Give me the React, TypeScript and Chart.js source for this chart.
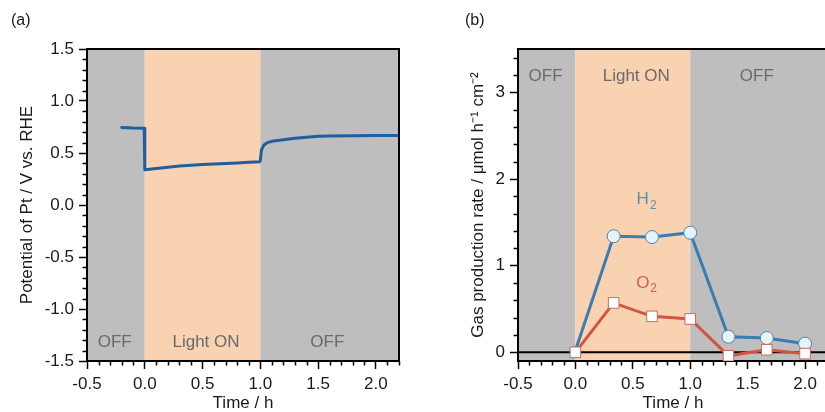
import React, { useEffect, useRef } from 'react';
import { Chart, registerables } from 'chart.js';

Chart.register(...registerables);

// ---------- data ----------
// Panel (a): potential of Pt vs time
const potentialTime = [-0.2, -0.1, -0.005, 0.0, 0.1, 0.2, 0.3, 0.4, 0.5, 0.6, 0.7, 0.8, 0.9, 0.995, 1.0, 1.01, 1.03, 1.06, 1.1, 1.2, 1.3, 1.4, 1.5, 1.6, 1.8, 2.0, 2.2];
const potentialValue = [0.745, 0.74, 0.738, 0.34, 0.352, 0.364, 0.374, 0.382, 0.389, 0.395, 0.4, 0.405, 0.41, 0.415, 0.43, 0.53, 0.575, 0.6, 0.612, 0.628, 0.642, 0.652, 0.66, 0.664, 0.667, 0.668, 0.668];

// Panel (b): gas production rates
const gasTime = [0, 0.333, 0.667, 1.0, 1.333, 1.667, 2.0];
const h2Rate = [0.02, 1.34, 1.33, 1.38, 0.18, 0.165, 0.1];
const o2Rate = [0.0, 0.57, 0.415, 0.385, -0.04, 0.03, -0.015];

// Illumination periods
const bandStart = [-0.5, 0, 1];
const bandEnd = [0, 1, 2.2];
const bandLabels = ['OFF', 'Light ON', 'OFF'];
const bandLabelAt = [-0.26, 0.53, 1.58];
const bandColors = ['#bebebe', '#f9d2b2', '#bebebe'];

// Axis ticks
const timeTicksMajor = 0.5;
const timeTicksMinor = 0.1;
const potentialTicksMajor = 0.5;
const potentialTicksMinor = 0.1;
const rateTicksMajor = 1;
const rateTicksMinor = 0.2;

const FONT = "'Liberation Sans', Arial, sans-serif";
const FS = 17;

const bandsPlugin = {
  id: 'bands',
  beforeDraw(chart: any, _args: any, opts: any) {
    const { ctx, chartArea: a, scales } = chart;
    const x = scales.x;
    const y = scales.y;
    ctx.save();
    ctx.beginPath();
    ctx.rect(a.left, a.top, a.right - a.left, a.bottom - a.top);
    ctx.clip();
    for (let i = 0; i < bandStart.length; i++) {
      const x0 = x.getPixelForValue(bandStart[i]);
      const x1 = x.getPixelForValue(bandEnd[i]);
      ctx.fillStyle = bandColors[i];
      ctx.fillRect(x0, a.top, x1 - x0, a.bottom - a.top);
    }
    if (opts.zeroLine) {
      const y0 = y.getPixelForValue(0);
      ctx.strokeStyle = '#000';
      ctx.lineWidth = 2;
      ctx.beginPath();
      ctx.moveTo(a.left, y0);
      ctx.lineTo(a.right, y0);
      ctx.stroke();
    }
    ctx.font = `${FS}px ${FONT}`;
    ctx.fillStyle = '#6a6a6a';
    ctx.textAlign = 'center';
    ctx.textBaseline = 'middle';
    for (let i = 0; i < bandLabels.length; i++) {
      ctx.fillText(bandLabels[i], x.getPixelForValue(bandLabelAt[i]), y.getPixelForValue(opts.labelY));
    }
    ctx.restore();
  },
};

const frameAndMinorPlugin = {
  id: 'frameMinor',
  afterDraw(chart: any, _args: any, opts: any) {
    const { ctx, chartArea: a, scales } = chart;
    const x = scales.x;
    const y = scales.y;
    ctx.save();
    ctx.strokeStyle = '#000';
    ctx.lineWidth = 1.5;
    // minor ticks x
    for (let v = x.min; v <= x.max + 1e-9; v += opts.xMinor) {
      const r = v / opts.xMajor;
      if (Math.abs(r - Math.round(r)) < 1e-6) continue;
      const px = Math.round(x.getPixelForValue(v)) + 0.5;
      ctx.beginPath();
      ctx.moveTo(px, a.bottom);
      ctx.lineTo(px, a.bottom + 4.5);
      ctx.stroke();
    }
    // minor ticks y
    const yStart = Math.ceil(y.min / opts.yMinor - 1e-9) * opts.yMinor;
    for (let v = yStart; v <= y.max + 1e-9; v += opts.yMinor) {
      const r = v / opts.yMajor;
      if (Math.abs(r - Math.round(r)) < 1e-6) continue;
      const py = Math.round(y.getPixelForValue(v)) + 0.5;
      ctx.beginPath();
      ctx.moveTo(a.left, py);
      ctx.lineTo(a.left - 4.5, py);
      ctx.stroke();
    }
    // frame top / right
    ctx.lineWidth = 2;
    ctx.beginPath();
    ctx.moveTo(a.left - 1, a.top);
    ctx.lineTo(a.right, a.top);
    ctx.lineTo(a.right, a.bottom);
    ctx.stroke();
    ctx.restore();
  },
};

const gasLabelsPlugin = {
  id: 'gasLabels',
  afterDatasetsDraw(chart: any) {
    const { ctx, scales } = chart;
    const x = scales.x;
    const y = scales.y;
    const draw = (main: string, sub: string, xv: number, yv: number, color: string) => {
      ctx.save();
      ctx.fillStyle = color;
      ctx.textBaseline = 'middle';
      ctx.textAlign = 'left';
      ctx.font = `${FS}px ${FONT}`;
      const w1 = ctx.measureText(main).width;
      ctx.font = `12px ${FONT}`;
      const w2 = ctx.measureText(sub).width;
      const cx = x.getPixelForValue(xv);
      const cy = y.getPixelForValue(yv);
      const left = cx - (w1 + w2 + 1) / 2;
      ctx.font = `${FS}px ${FONT}`;
      ctx.fillText(main, left, cy);
      ctx.font = `12px ${FONT}`;
      ctx.fillText(sub, left + w1 + 1, cy + 6);
      ctx.restore();
    };
    draw('H', '2', 0.62, 1.76, '#5b8fba');
    draw('O', '2', 0.62, 0.8, '#d4604a');
  },
};

function axisCommon(title: string, fit: (s: any) => void, decimals: number, titlePad: any) {
  return {
    type: 'linear' as const,
    grid: {
      drawOnChartArea: false,
      drawTicks: true,
      tickLength: 8,
      tickColor: '#000',
      tickWidth: 1.5,
    },
    border: { display: true, color: '#000', width: 2 },
    ticks: {
      includeBounds: false,
      autoSkip: false,
      maxRotation: 0,
      padding: 5,
      color: '#1a1a1a',
      font: { family: FONT, size: FS },
      callback: (v: any) => Number(v).toFixed(decimals),
    },
    title: {
      display: true,
      text: title,
      color: '#1a1a1a',
      font: { family: FONT, size: FS },
      padding: titlePad,
    },
    afterFit: fit,
  };
}

function PanelA() {
  const ref = useRef<HTMLCanvasElement>(null);
  useEffect(() => {
    const xs = axisCommon('Time / h', (s: any) => { s.height = 51; }, 1, { top: 0, bottom: -2 });
    const ys = axisCommon('Potential of Pt / V vs. RHE', (s: any) => { s.width = 70; }, 1, 0);
    const chart = new Chart(ref.current!, {
      type: 'line',
      data: {
        datasets: [
          {
            data: potentialTime.map((t, i) => ({ x: t, y: potentialValue[i] })),
            borderColor: '#1f5e9f',
            borderWidth: 3,
            pointRadius: 0,
            borderJoinStyle: 'round',
            borderCapStyle: 'round',
            tension: 0,
          },
        ],
      },
      options: {
        animation: false,
        responsive: false,
        layout: { padding: { left: 17, top: 49, right: 13, bottom: 0 } },
        scales: {
          x: { ...xs, min: -0.5, max: 2.2, ticks: { ...xs.ticks, stepSize: timeTicksMajor } },
          y: { ...ys, min: -1.5, max: 1.5, ticks: { ...ys.ticks, stepSize: potentialTicksMajor } },
        },
        plugins: {
          legend: { display: false },
          tooltip: { enabled: false },
          bands: { labelY: -1.32, zeroLine: false },
          frameMinor: { xMinor: timeTicksMinor, xMajor: timeTicksMajor, yMinor: potentialTicksMinor, yMajor: potentialTicksMajor },
        } as any,
      },
      plugins: [bandsPlugin, frameAndMinorPlugin],
    });
    return () => chart.destroy();
  }, []);
  return <canvas ref={ref} width={412} height={412} style={{ position: 'absolute', left: 0, top: 0, width: 412, height: 412 }} />;
}

function PanelB() {
  const ref = useRef<HTMLCanvasElement>(null);
  useEffect(() => {
    const xs = axisCommon('Time / h', (s: any) => { s.height = 51; }, 1, { top: 0, bottom: -2 });
    const ys = axisCommon('Gas production rate / \u03bcmol h\u207b\u00b9 cm\u207b\u00b2', (s: any) => { s.width = 50; }, 0, 0);
    const chart = new Chart(ref.current!, {
      type: 'line',
      data: {
        datasets: [
          {
            data: gasTime.map((t, i) => ({ x: t, y: o2Rate[i] })),
            borderColor: '#d0563f',
            borderWidth: 3,
            pointStyle: 'rect',
            pointRadius: 7.5,
            pointBackgroundColor: '#ffffff',
            pointBorderColor: '#c86a5a',
            pointBorderWidth: 1,
            order: 0,
          },
          {
            data: gasTime.map((t, i) => ({ x: t, y: h2Rate[i] })),
            borderColor: '#3a7db3',
            borderWidth: 3,
            pointStyle: 'circle',
            pointRadius: (c: any) => (c.dataIndex === 0 ? 0 : 6.5),
            pointBackgroundColor: '#e6f3f8',
            pointBorderColor: '#4c84ad',
            pointBorderWidth: 1,
            order: 1,
          },
        ],
      },
      options: {
        animation: false,
        responsive: false,
        layout: { padding: { left: 56, top: 49, right: 14, bottom: 0 } },
        scales: {
          x: { ...xs, min: -0.5, max: 2.2, ticks: { ...xs.ticks, stepSize: timeTicksMajor } },
          y: { ...ys, min: -0.1, max: 3.5, ticks: { ...ys.ticks, stepSize: rateTicksMajor } },
        },
        plugins: {
          legend: { display: false },
          tooltip: { enabled: false },
          bands: { labelY: 3.19, zeroLine: true },
          frameMinor: { xMinor: timeTicksMinor, xMajor: timeTicksMajor, yMinor: rateTicksMinor, yMajor: rateTicksMajor },
        } as any,
      },
      plugins: [bandsPlugin, frameAndMinorPlugin, gasLabelsPlugin],
    });
    return () => chart.destroy();
  }, []);
  return <canvas ref={ref} width={430} height={412} style={{ position: 'absolute', left: 412, top: 0, width: 430, height: 412 }} />;
}

function PanelLabels() {
  const style: React.CSSProperties = {
    position: 'absolute',
    top: 10,
    fontFamily: FONT,
    fontSize: 16,
    color: '#1a1a1a',
    lineHeight: '20px',
  };
  return (
    <>
      <div style={{ ...style, left: 11 }}>(a)</div>
      <div style={{ ...style, left: 465 }}>(b)</div>
    </>
  );
}

export default function App() {
  return (
    <div style={{ position: 'fixed', left: 0, top: 0, width: 825, height: 412, overflow: 'hidden', background: '#fff' }}>
      <PanelA />
      <PanelB />
      <PanelLabels />
    </div>
  );
}
